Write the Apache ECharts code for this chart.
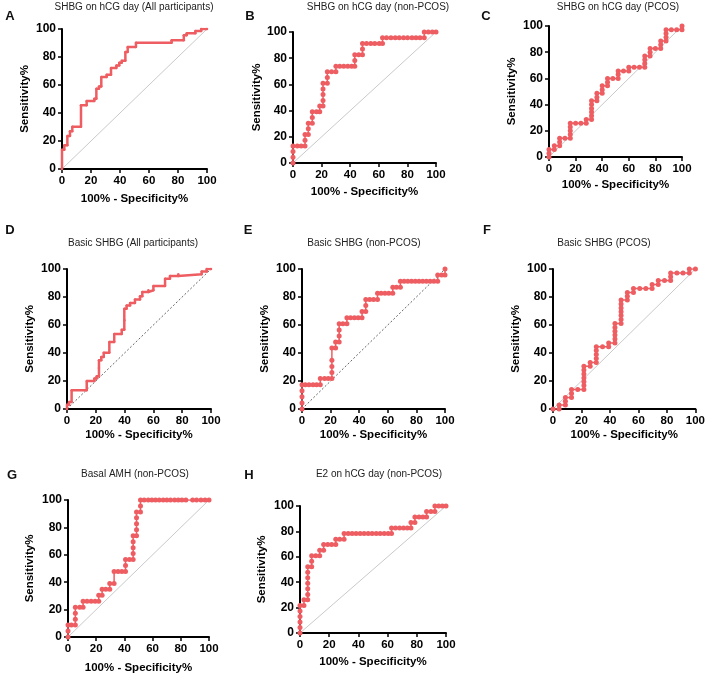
<!DOCTYPE html>
<html><head><meta charset="utf-8">
<script src="https://cdn.jsdelivr.net/npm/echarts@6/dist/echarts.min.js"></script>
<style>html,body{margin:0;padding:0;background:#fff}#c{width:708px;height:676px}</style>
</head><body><div id="c"></div>
<script>
const panelTitles = ["SHBG on hCG day (All participants)","SHBG on hCG day (non-PCOS)","SHBG on hCG day (PCOS)","Basic SHBG (All participants)","Basic SHBG (non-PCOS)","Basic SHBG (PCOS)","Basal AMH (non-PCOS)","E2 on hCG day (non-PCOS)"];
const panelLetters = ["A","B","C","D","E","F","G","H"];
const tickValues = [0,20,40,60,80,100];
const xAxisName = "100% - Specificity%";
const yAxisName = "Sensitivity%";

const rocA = [[0,0],[0,13.8],[1.6,13.8],[1.6,16.9],[3.7,16.9],[3.7,23.6],[5.5,23.6],[5.5,26.9],[7.1,26.9],[7.1,30.2],[13.1,30.2],[13.1,45.5],[17,45.5],[17,48.6],[22.3,48.6],[22.3,50.2],[23.7,50.2],[23.7,57.4],[25.5,57.4],[25.5,59],[27.1,59],[27.1,65.7],[30.8,65.7],[30.8,67.4],[33.8,67.4],[33.8,72.1],[37.5,72.1],[37.5,74],[39.5,74],[39.5,75.9],[41.2,75.9],[41.2,77.4],[43.7,77.4],[43.7,83.6],[45.3,83.6],[45.3,87.1],[51,87.1],[51,90.2],[75.6,90.2],[75.6,91.9],[84,91.9],[84,95.5],[86,95.5],[86,97],[92,97],[92,98.5],[96,98.5],[96,100],[100,100]];
const rocB = [[0,0],[0,4.3],[0,8.7],[0,13],[3,13],[5.7,13],[8.4,13],[8.4,17.4],[8.4,21.7],[10.7,21.7],[10.7,26.1],[10.7,30.4],[13.5,30.4],[13.5,34.8],[13.5,39.1],[16.4,39.1],[18.7,39.1],[18.7,43.5],[21,43.5],[21,47.8],[21,52.2],[21,56.5],[21,60.9],[24,60.9],[24,65.2],[24,69.6],[27,69.6],[30,69.6],[30,73.9],[32.7,73.9],[35.5,73.9],[38.3,73.9],[41,73.9],[43.2,73.9],[43.2,78.3],[43.2,82.6],[46,82.6],[48.6,82.6],[48.6,87],[48.6,91.3],[51.4,91.3],[54.4,91.3],[57.2,91.3],[60.3,91.3],[62.6,91.3],[62.6,95.7],[65.4,95.7],[68.5,95.7],[71.5,95.7],[74.3,95.7],[77.3,95.7],[80.1,95.7],[83.2,95.7],[86,95.7],[88.8,95.7],[91.8,95.7],[91.8,100],[94.6,100],[97.4,100],[100,100]];
const rocC = [[0,0],[0,2.9],[0,5.7],[4,5.7],[4,8.6],[8,8.6],[8,11.4],[8,14.3],[12,14.3],[16,14.3],[16,17.1],[16,20],[16,22.9],[16,25.7],[20,25.7],[24,25.7],[28,25.7],[28,28.6],[32,28.6],[32,31.4],[32,34.3],[32,37.1],[32,40],[32,42.9],[36,42.9],[36,45.7],[36,48.6],[40,48.6],[40,51.4],[40,54.3],[44,54.3],[44,57.1],[44,60],[48,60],[52,60],[52,62.9],[52,65.7],[56,65.7],[60,65.7],[60,68.6],[64,68.6],[68,68.6],[72,68.6],[72,71.4],[72,74.3],[72,77.1],[76,77.1],[76,80],[76,82.9],[80,82.9],[84,82.9],[84,85.7],[84,88.6],[88,88.6],[88,91.4],[88,94.3],[88,97.1],[92,97.1],[96,97.1],[100,97.1],[100,100]];
const rocD = [[0,0],[0,3],[1.4,3],[1.4,5],[3.2,5],[3.2,13.4],[13.7,13.4],[13.7,20],[19,20],[19,21.7],[20.6,21.7],[20.6,23.4],[22.2,23.4],[22.2,29.3],[22.2,34.8],[23.8,34.8],[23.8,37.1],[25.5,37.1],[25.5,40.2],[29.4,40.2],[29.4,47.9],[32.8,47.9],[32.8,53.6],[38,53.6],[38,56.6],[39.8,56.6],[39.8,63.4],[39.8,71.6],[41.4,71.6],[41.4,74],[43.8,74],[43.8,75.7],[47.2,75.7],[47.2,78.3],[50.7,78.3],[50.7,80.5],[52.3,80.5],[52.3,83.6],[56.5,83.6],[56.5,84.8],[60,84.8],[60,87.9],[68.1,87.9],[68.1,93.1],[71.5,93.1],[71.5,95],[77.3,95],[77.3,96.2],[93.5,96.2],[93.5,98.3],[97,98.3],[97,100],[100,100]];
const rocE = [[0,0],[0,4.3],[0,8.7],[0,13],[0,17.4],[2.3,17.4],[4.9,17.4],[7.7,17.4],[10.2,17.4],[12.8,17.4],[12.8,21.7],[15.8,21.7],[18.4,21.7],[20.9,21.7],[20.9,26.1],[20.9,30.4],[20.9,34.8],[20.9,43.5],[23.5,43.5],[23.5,47.8],[26,47.8],[26,52.2],[26,56.5],[26,60.9],[28.6,60.9],[31.4,60.9],[31.4,65.2],[34,65.2],[36.7,65.2],[39.3,65.2],[42,65.2],[42,69.6],[44.6,69.6],[44.6,73.9],[44.6,78.3],[47.3,78.3],[50,78.3],[52.8,78.3],[52.8,82.6],[55.3,82.6],[58,82.6],[60.7,82.6],[63.5,82.6],[63.5,87],[66,87],[68.8,87],[68.8,91.3],[71.4,91.3],[74,91.3],[76.6,91.3],[79.2,91.3],[81.8,91.3],[84.4,91.3],[87,91.3],[89.6,91.3],[92.2,91.3],[94.9,91.3],[94.9,95.7],[97.7,95.7],[100,95.7],[100,100]];
const rocF = [[0,0],[4.3,0],[4.3,2.8],[8.7,2.8],[8.7,5.6],[8.7,8.3],[13,8.3],[13,11.1],[13,13.9],[17.4,13.9],[21.7,13.9],[21.7,16.7],[21.7,19.4],[21.7,22.2],[21.7,25],[21.7,27.8],[21.7,30.6],[26.1,30.6],[26.1,33.3],[30.4,33.3],[30.4,36.1],[30.4,38.9],[30.4,41.7],[30.4,44.4],[34.8,44.4],[39.1,44.4],[39.1,47.2],[43.5,47.2],[43.5,50],[43.5,52.8],[43.5,55.6],[43.5,58.3],[43.5,61.1],[47.8,61.1],[47.8,63.9],[47.8,66.7],[47.8,69.4],[47.8,72.2],[47.8,75],[47.8,77.8],[52.2,77.8],[52.2,80.6],[52.2,83.3],[56.5,83.3],[56.5,86.1],[60.9,86.1],[65.2,86.1],[69.6,86.1],[69.6,88.9],[73.9,88.9],[73.9,91.7],[78.3,91.7],[82.6,91.7],[82.6,94.4],[82.6,97.2],[87,97.2],[91.3,97.2],[95.7,97.2],[95.7,100],[100,100]];
const rocG = [[0,0],[0,4.3],[0,8.7],[2.4,8.7],[5.2,8.7],[5.2,13],[5.2,17.4],[5.2,21.7],[8.3,21.7],[10.7,21.7],[10.7,26.1],[13.5,26.1],[16.4,26.1],[19.2,26.1],[21.8,26.1],[21.8,30.4],[24.2,30.4],[24.2,34.8],[26.8,34.8],[29.6,34.8],[29.6,39.1],[32.7,39.1],[32.7,47.8],[35.5,47.8],[38.2,47.8],[40.8,47.8],[40.8,52.2],[40.8,56.5],[43.6,56.5],[46.2,56.5],[46.2,60.9],[46.2,65.2],[46.2,69.6],[46.2,73.9],[48.6,73.9],[48.6,78.3],[48.6,82.6],[48.6,87],[48.6,91.3],[51.4,91.3],[51.4,95.7],[51.4,100],[54,100],[56.9,100],[59.5,100],[62.1,100],[64.7,100],[67.5,100],[70.1,100],[72.7,100],[75.6,100],[78.2,100],[80.8,100],[83.6,100],[88.4,100],[91.2,100],[94.3,100],[97.2,100],[100,100]];
const rocH = [[0,0],[0,4.3],[0,8.7],[0,13],[0,17.4],[0,21.7],[2.7,21.7],[2.7,26.1],[5.3,26.1],[5.3,30.4],[5.3,34.8],[5.3,39.1],[5.3,43.5],[5.3,47.8],[5.3,52.2],[8,52.2],[8,56.5],[8,60.9],[10.8,60.9],[13.5,60.9],[13.5,65.2],[16.2,65.2],[16.2,69.6],[19,69.6],[21.7,69.6],[24.5,69.6],[24.5,73.9],[27.2,73.9],[30.2,73.9],[30.2,78.3],[33,78.3],[35.7,78.3],[38.4,78.3],[41.2,78.3],[43.9,78.3],[46.7,78.3],[49.4,78.3],[52.2,78.3],[54.9,78.3],[57.7,78.3],[60.4,78.3],[62.7,78.3],[62.7,82.6],[65.4,82.6],[68.2,82.6],[70.9,82.6],[73.5,82.6],[76,82.6],[76,87],[78.7,87],[78.7,91.3],[81.5,91.3],[84.2,91.3],[86.7,91.3],[86.7,95.7],[89.7,95.7],[92.4,95.7],[92.4,100],[95,100],[97.5,100],[100,100]];
const refLine = [[0,0],[100,100]];

const rocData = [rocA,rocB,rocC,rocD,rocE,rocF,rocG,rocH];
// layout (pixels)
const boxes = [
  {l:62,t:29,w:145,h:140, tx:134,ty:7, lx:10,ly:16, yg:31, xg:24, small:true, dash:false},
  {l:293,t:32,w:143,h:131, tx:378,ty:7, lx:250,ly:16, yg:29, xg:23, small:false, dash:false},
  {l:549,t:26,w:133,h:131, tx:618,ty:7, lx:486,ly:16, yg:31, xg:22, small:false, dash:false},
  {l:67,t:269,w:144,h:140, tx:133,ty:243, lx:10,ly:230, yg:31, xg:20, small:true, dash:true},
  {l:302,t:269,w:143,h:140, tx:364,ty:243, lx:248,ly:230, yg:31, xg:20, small:false, dash:true},
  {l:553,t:269,w:144,h:140, tx:604,ty:243, lx:487,ly:230, yg:31, xg:20, small:false, dash:false},
  {l:68,t:500,w:141,h:137, tx:135,ty:474, lx:12,ly:475, yg:32, xg:25, small:false, dash:false},
  {l:300,t:506,w:146,h:127, tx:379,ty:474, lx:249,ly:475, yg:32, xg:23, small:false, dash:false}
];
const FF = "'Liberation Sans', Arial, sans-serif";
const RED = '#ee5d61';
const grids=[], xAxes=[], yAxes=[], series=[], graphics=[];
boxes.forEach((b,i)=>{
  grids.push({left:b.l, top:b.t, width:b.w, height:b.h, containLabel:false});
  const axCommon = {
    min:tickValues[0], max:tickValues[tickValues.length-1], interval:tickValues[1]-tickValues[0], gridIndex:i,
    axisLine:{show:true, onZero:false, lineStyle:{color:'#000', width:2}},
    axisTick:{show:true, length:4, lineStyle:{color:'#000', width:1.5}},
    splitLine:{show:false},
    axisLabel:{color:'#000', fontWeight:'bold', fontSize:12, fontFamily:FF},
    nameLocation:'middle',
    nameTextStyle:{color:'#000', fontWeight:'bold', fontSize:11.5, fontFamily:FF}
  };
  xAxes.push(Object.assign({}, axCommon, {type:'value', name:xAxisName, nameGap:b.xg, axisLabel:Object.assign({}, axCommon.axisLabel, {margin:6, fontSize:11.5})}));
  yAxes.push(Object.assign({}, axCommon, {type:'value', name:yAxisName, nameGap:b.yg, axisLabel:Object.assign({}, axCommon.axisLabel, {margin:6})}));
  series.push({type:'line', xAxisIndex:i, yAxisIndex:i, data:refLine, symbol:'none', silent:true,
    lineStyle: b.dash ? {color:'#666', width:1, type:[2,2]} : {color:'#c9c9c9', width:1}, z:1});
  series.push({type:'line', xAxisIndex:i, yAxisIndex:i, data:rocData[i], symbol:'circle',
    symbolSize: b.small ? 2.5 : 5, showAllSymbol:true,
    itemStyle:{color:RED}, lineStyle:{color:RED, width: b.small ? 2.5 : 1.5}, z:3, animation:false});
  graphics.push({type:'text', style:{text:panelTitles[i], fill:'#222', font:'10px '+FF, textAlign:'center', textVerticalAlign:'middle'}, x:b.tx, y:b.ty});
  graphics.push({type:'text', style:{text:panelLetters[i], fill:'#111', font:'bold 13px '+FF, textAlign:'center', textVerticalAlign:'middle'}, x:b.lx, y:b.ly});
});
const chart = echarts.init(document.getElementById('c'), null, {renderer:'canvas'});
chart.setOption({animation:false, grid:grids, xAxis:xAxes, yAxis:yAxes, series:series, graphic:graphics});
</script></body></html>
